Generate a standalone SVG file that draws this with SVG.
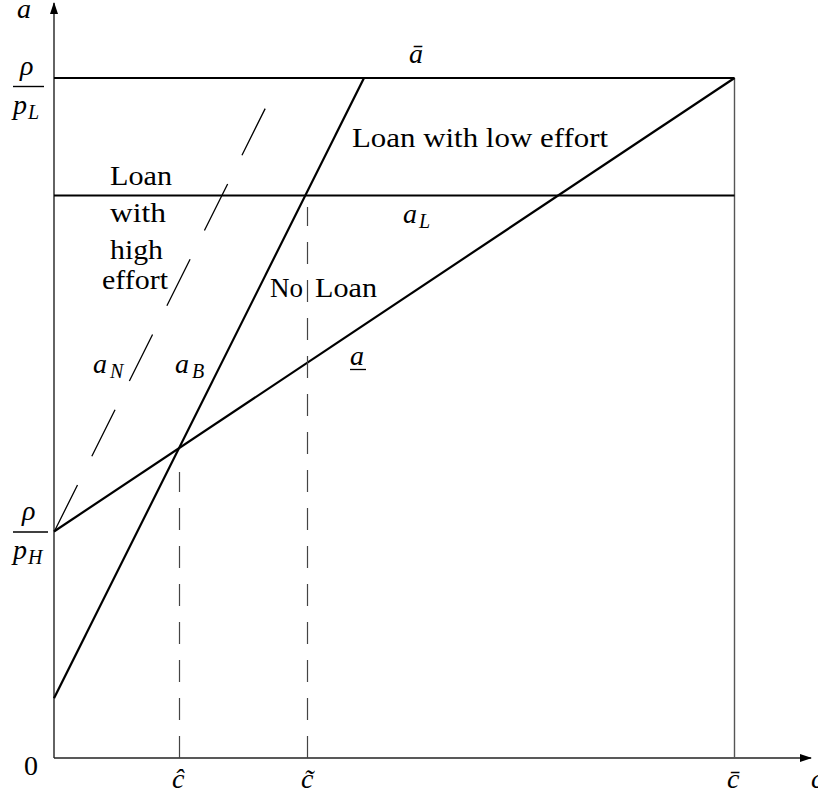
<svg xmlns="http://www.w3.org/2000/svg" width="818" height="795" viewBox="0 0 818 795">
<style>
text{font-family:"Liberation Serif","Times New Roman",serif;font-size:28px;fill:#000}
.m{font-style:italic}
.s{font-style:italic;font-size:20px}
.thick{stroke:#000;stroke-width:2.2;fill:none}
.axis{stroke:#222;stroke-width:1.4;fill:none}
.thin{stroke:#555;stroke-width:1.4;fill:none}
.dv{stroke:#444;stroke-width:1.2;stroke-dasharray:22 16;fill:none}
.dn{stroke:#000;stroke-width:1.3;stroke-dasharray:52 32.1;fill:none}
</style>
<defs>
<marker id="ah" markerWidth="12" markerHeight="8" refX="11" refY="4" orient="auto" markerUnits="userSpaceOnUse">
<path d="M0,0 L12,4 L0,8 Z" fill="#000"/>
</marker>
</defs>
<rect width="818" height="795" fill="#fff"/>
<g id="axes">
<line class="axis" x1="54" y1="758" x2="54" y2="3" marker-end="url(#ah)"/>
<line class="axis" x1="54" y1="758" x2="811" y2="758" marker-end="url(#ah)"/>
<line class="thin" x1="734.5" y1="78" x2="734.5" y2="758"/>
</g>
<g id="connectors">
<line id="abar" class="thick" x1="54" y1="78" x2="734.5" y2="78"/>
<line id="aL" class="thick" x1="54" y1="195.5" x2="734.5" y2="195.5"/>
<line id="aunder" class="thick" x1="54" y1="531.5" x2="734.5" y2="78"/>
<line id="aB" class="thick" x1="54" y1="698.3" x2="364" y2="78"/>
<line id="aN" class="dn" x1="54.3" y1="531.5" x2="266" y2="107"/>
<line id="chat" class="dv" x1="179.5" y1="758" x2="179.5" y2="472"/>
<line id="ctilde" class="dv" x1="307.5" y1="758" x2="307.5" y2="207"/>
</g>
<g id="labels">
<text class="m" x="17" y="18" font-size="26">a</text>
<text class="m" x="20" y="75">ρ</text>
<line x1="13" y1="86.5" x2="44" y2="86.5" stroke="#000" stroke-width="1.4"/>
<text class="m" x="13" y="114">p</text><text class="s" x="28" y="119">L</text>
<text class="m" x="22" y="520">ρ</text>
<line x1="13" y1="532" x2="48" y2="532" stroke="#000" stroke-width="1.4"/>
<text class="m" x="13" y="559">p</text><text class="s" x="28" y="564">H</text>
<text x="24" y="775">0</text>
<text class="m" x="172" y="788">ĉ</text>
<text class="m" x="301" y="788">c̃</text>
<text class="m" x="727" y="788">c̄</text>
<text class="m" x="811" y="788">c</text>
<text class="m" x="409" y="63">ā</text>
<text x="352" y="147" textLength="256" lengthAdjust="spacingAndGlyphs">Loan with low effort</text>
<text x="110" y="185" textLength="62" lengthAdjust="spacingAndGlyphs">Loan</text>
<text x="110" y="222" textLength="56" lengthAdjust="spacingAndGlyphs">with</text>
<text x="110" y="259" textLength="53" lengthAdjust="spacingAndGlyphs">high</text>
<text x="102" y="289" textLength="66" lengthAdjust="spacingAndGlyphs">effort</text>
<text x="270" y="297" textLength="33" lengthAdjust="spacingAndGlyphs">No</text>
<text x="315" y="297" textLength="62" lengthAdjust="spacingAndGlyphs">Loan</text>
<text class="m" x="403" y="223">a</text><text class="s" x="419" y="228">L</text>
<text class="m" x="93" y="373">a</text><text class="s" x="110" y="378">N</text>
<text class="m" x="175" y="373">a</text><text class="s" x="192" y="378">B</text>
<text class="m" x="350" y="365">a</text>
<line x1="350" y1="369.5" x2="366" y2="369.5" stroke="#000" stroke-width="1.3"/>
</g>
</svg>
